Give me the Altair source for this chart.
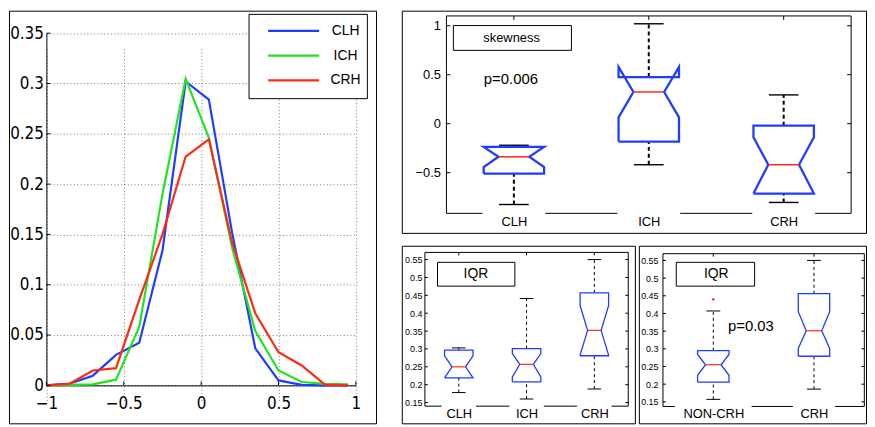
import altair as alt
import pandas as pd

# ---------------- data ----------------
bin_centers = [-1.0, -0.85, -0.7, -0.55, -0.4, -0.25, -0.1, 0.05, 0.2, 0.35, 0.5, 0.65, 0.8, 0.95]
clh_density = [0.0, 0.0017, 0.0096, 0.0303, 0.0424, 0.1338, 0.302, 0.284, 0.152, 0.0368, 0.0049, 0.0005, 0.0, 0.0]
ich_density = [0.0, 0.0005, 0.001, 0.0056, 0.058, 0.19, 0.3047, 0.246, 0.137, 0.054, 0.0148, 0.0033, 0.0015, 0.001]
crh_density = [0.0, 0.0015, 0.0148, 0.0171, 0.085, 0.150, 0.2274, 0.2445, 0.142, 0.0716, 0.0329, 0.0197, 0.0007, 0.0]
series_names = ["CLH", "ICH", "CRH"]
series_colors = ["#1f3dff", "#22e322", "#ff2a12"]
left_xticks = [-1, -0.5, 0, 0.5, 1]
left_yticks = [0, 0.05, 0.1, 0.15, 0.2, 0.25, 0.3, 0.35]

skew_cats = ["CLH", "ICH", "CRH"]
skew_lo = [-0.825, -0.419, -0.804]
skew_q1 = [-0.51, -0.182, -0.713]
skew_notch_lo = [-0.443, 0.064, -0.713]
skew_med = [-0.338, 0.324, -0.419]
skew_notch_hi = [-0.237, 0.58, -0.139]
skew_q3 = [-0.237, 0.476, -0.02]
skew_hi = [-0.22, 1.02, 0.294]
skew_yticks = [-0.5, 0, 0.5, 1]
skew_label = "skewness"
skew_p = "p=0.006"

iqr3_cats = ["CLH", "ICH", "CRH"]
iqr3_lo = [0.178, 0.160, 0.188]
iqr3_q1 = [0.219, 0.208, 0.281]
iqr3_notch_lo = [0.219, 0.222, 0.283]
iqr3_med = [0.250, 0.257, 0.352]
iqr3_notch_hi = [0.281, 0.287, 0.421]
iqr3_q3 = [0.297, 0.301, 0.457]
iqr3_hi = [0.303, 0.441, 0.550]

iqr2_cats = ["NON-CRH", "CRH"]
iqr2_lo = [0.157, 0.186]
iqr2_q1 = [0.206, 0.279]
iqr2_notch_lo = [0.225, 0.301]
iqr2_med = [0.255, 0.351]
iqr2_notch_hi = [0.284, 0.405]
iqr2_q3 = [0.295, 0.456]
iqr2_hi = [0.407, 0.550]
iqr2_outlier_cat = [1]
iqr2_outlier_val = [0.440]
iqr2_p = "p=0.03"
iqr_label = "IQR"
iqr_yticks = [0.15, 0.2, 0.25, 0.3, 0.35, 0.4, 0.45, 0.5, 0.55]

# ---------------- styles ----------------
FONT = "Liberation Sans, Arial, Helvetica, sans-serif"
NARROW = "Liberation Sans Narrow, Arial Narrow, DejaVu Sans Condensed, Liberation Sans, sans-serif"
BLUE = "#1f3dff"
RED = "#ff2a12"
ONE = pd.DataFrame({"a": [0]})


class Frame:
    """Panel view = outer frame; plot area placed at (ox, oy) with size W x H."""

    def __init__(self, FW, FH, ox, oy, W, H):
        self.FW, self.FH, self.ox, self.oy, self.W, self.H = FW, FH, ox, oy, W, H

    def rect(self, x0, x1, y0, y1, fill="white", fill_opacity=1.0, stroke="black", sw=1.0):
        return alt.Chart(ONE).mark_rect(fill=fill, fillOpacity=fill_opacity, stroke=stroke,
                                        strokeWidth=sw).encode(
            x=alt.value(self.ox + x0), x2=alt.value(self.ox + x1),
            y=alt.value(self.oy + y0), y2=alt.value(self.oy + y1))

    def text(self, txt, x, y, size, font=FONT, align="center"):
        return alt.Chart(pd.DataFrame({"t": [txt]})).mark_text(
            font=font, fontSize=size, color="black", align=align, baseline="middle").encode(
            x=alt.value(self.ox + x), y=alt.value(self.oy + y), text="t:N")

    def xscale(self, dom):
        return alt.Scale(domain=dom, range=[self.ox, self.ox + self.W], nice=False, zero=False)

    def yscale(self, dom):
        return alt.Scale(domain=dom, range=[self.oy + self.H, self.oy], nice=False, zero=False)


# ---------------- left panel: density curves ----------------
def left_panel():
    F = Frame(370, 416, 37.7, 22.7, 312, 355)
    rows = []
    for name, vals in zip(series_names, [clh_density, ich_density, crh_density]):
        for xv, yv in zip(bin_centers, vals):
            rows.append({"x": xv, "y": yv, "series": name})
    dens = pd.DataFrame(rows)
    xs = F.xscale([-1, 1])
    ys = F.yscale([0, 0.35])
    common = dict(grid=True, gridDash=[1, 2.4], gridColor="#7a7a7a", gridWidth=1,
                  domain=True, domainColor="black", domainWidth=1, ticks=False,
                  labelFont=NARROW, labelFontSize=17, labelColor="black",
                  labelFlush=False, labelOverlap=False, title=None, format="~g")
    xaxis = alt.Axis(values=left_xticks, labelPadding=10,
                     offset=-(F.FH - F.oy - F.H), **common)
    yaxis = alt.Axis(values=left_yticks, labelPadding=3, offset=-F.ox, **common)

    lines = alt.Chart(dens).mark_line(strokeWidth=2.2).encode(
        x=alt.X("x:Q", scale=xs, axis=xaxis),
        y=alt.Y("y:Q", scale=ys, axis=yaxis),
        color=alt.Color("series:N", scale=alt.Scale(domain=series_names, range=series_colors),
                        legend=None),
        detail="series:N")
    yt = alt.Chart(pd.DataFrame({"t": left_yticks})).mark_rule(color="black", strokeWidth=1).encode(
        y=alt.Y("t:Q", scale=ys, axis=yaxis), x=alt.value(F.ox), x2=alt.value(F.ox + 4))
    xt = alt.Chart(pd.DataFrame({"t": left_xticks})).mark_rule(color="black", strokeWidth=1).encode(
        x=alt.X("t:Q", scale=xs, axis=xaxis), y=alt.value(F.oy + F.H - 4), y2=alt.value(F.oy + F.H))
    layers = [lines, yt, xt, F.rect(204.3, 323.6, -19, 66)]
    row_y = [-2.4, 22.6, 47.6]
    for i, name in enumerate(series_names):
        layers.append(alt.Chart(pd.DataFrame({"n": [name]})).mark_rule(
            color=series_colors[i], strokeWidth=2.2).encode(
            x=alt.value(F.ox + 223.6), x2=alt.value(F.ox + 275), y=alt.value(F.oy + row_y[i])))
        layers.append(F.text(name, 301.6, row_y[i], 14))
    return alt.layer(*layers).properties(width=F.FW, height=F.FH)


# ---------------- notched box panels ----------------
def box_panel(cats, lo, q1, nlo, med, nhi, q3, hi, yticks, ydom, st, extras):
    F = Frame(*st["frame"])
    n = len(cats)
    W, H = F.W, F.H
    pos = list(range(1, n + 1))
    hw, nw, cw = st["half"], st["notch"], st["cap"]
    xs = F.xscale([0.5, n + 0.5])
    ys = F.yscale(ydom)
    label_expr = "[" + ",".join("'%s'" % c for c in cats) + "][datum.value - 1]"
    xaxis = alt.Axis(values=pos, labelExpr=label_expr, ticks=False, domain=False, grid=False,
                     labelFont=FONT, labelFontSize=13, labelColor="black",
                     labelPadding=st["xpad"], labelFlush=False, labelOverlap=False,
                     offset=-(F.FH - F.oy - F.H), title=None, zindex=1)
    yaxis = alt.Axis(values=yticks, format="~g", ticks=False, domain=False, grid=False,
                     labelFont=FONT, labelFontSize=st["yfs"], labelColor="black",
                     labelPadding=st["ypad"], labelFlush=False, labelOverlap=False,
                     offset=-F.ox, title=None, zindex=1)

    def X(f):
        return alt.X(f, type="quantitative", scale=xs, axis=xaxis)

    def Y(f):
        return alt.Y(f, type="quantitative", scale=ys, axis=yaxis)

    stats = pd.DataFrame({"cat": cats, "pos": pos, "lo": lo, "q1": q1, "med": med,
                          "q3": q3, "hi": hi})
    stats["cap_l"] = stats["pos"] - cw
    stats["cap_r"] = stats["pos"] + cw
    stats["med_l"] = stats["pos"] - nw
    stats["med_r"] = stats["pos"] + nw
    stats["gap_l"] = [p - g for p, g in zip(pos, st["gap"])]
    stats["gap_r"] = [p + g for p, g in zip(pos, st["gap"])]

    poly = []
    for i, c in enumerate(pos):
        verts = [(c - hw, q1[i]), (c - hw, nlo[i]), (c - nw, med[i]), (c - hw, nhi[i]),
                 (c - hw, q3[i]), (c + hw, q3[i]), (c + hw, nhi[i]), (c + nw, med[i]),
                 (c + hw, nlo[i]), (c + hw, q1[i]), (c - hw, q1[i])]
        for k, (vx, vy) in enumerate(verts):
            poly.append({"cat": cats[i], "k": k, "px": vx, "py": vy})
    poly = pd.DataFrame(poly)

    layers = [
        F.rect(0, W, 0, H, fill_opacity=0),
        alt.Chart(stats).mark_rect(fill="white", strokeWidth=0).encode(
            x=X("gap_l"), x2="gap_r", y=alt.value(F.oy + H - 1.5), y2=alt.value(F.oy + H + 1.5)),
        alt.Chart(stats).mark_rule(color="black", strokeWidth=st["wsw"], strokeDash=st["dash"]).encode(
            x=X("pos"), y=Y("q3"), y2="hi"),
        alt.Chart(stats).mark_rule(color="black", strokeWidth=st["wsw"], strokeDash=st["dash"]).encode(
            x=X("pos"), y=Y("lo"), y2="q1"),
        alt.Chart(stats).mark_rule(color="black", strokeWidth=st["csw"]).encode(
            x=X("cap_l"), x2="cap_r", y=Y("hi")),
        alt.Chart(stats).mark_rule(color="black", strokeWidth=st["csw"]).encode(
            x=X("cap_l"), x2="cap_r", y=Y("lo")),
        alt.Chart(poly).mark_line(color=BLUE, strokeWidth=st["bsw"], strokeJoin="miter").encode(
            x=X("px"), y=Y("py"), detail="cat:N", order="k:Q"),
        alt.Chart(stats).mark_rule(color=RED, strokeWidth=st["msw"]).encode(
            x=X("med_l"), x2="med_r", y=Y("med")),
    ]
    tl = st["tick"]
    tdf = pd.DataFrame({"t": yticks})
    layers.append(alt.Chart(tdf).mark_rule(color="black", strokeWidth=1).encode(
        y=Y("t"), x=alt.value(F.ox), x2=alt.value(F.ox + tl)))
    layers.append(alt.Chart(tdf).mark_rule(color="black", strokeWidth=1).encode(
        y=Y("t"), x=alt.value(F.ox + W - tl), x2=alt.value(F.ox + W)))
    layers.append(alt.Chart(pd.DataFrame({"t": pos})).mark_rule(color="black", strokeWidth=1).encode(
        x=X("t"), y=alt.value(F.oy), y2=alt.value(F.oy + tl)))
    layers += extras(F, X, Y)
    return alt.layer(*layers).properties(width=F.FW, height=F.FH)


# frame = (frame width, frame height, plot x offset, plot y offset, plot width, plot height)
top_style = dict(frame=(468, 224, 45, 5.3, 408, 199),
                 half=0.224, notch=0.114, cap=0.11, gap=[0.233, 0.233, 0.233],
                 bsw=2.3, wsw=2.0, csw=1.4, dash=[4, 3], msw=1.5, yfs=13, ypad=6, xpad=2, tick=4)
iqr3_style = dict(frame=(235, 179, 23.3, 6.7, 205, 155),
                  half=0.21, notch=0.10, cap=0.10, gap=[0.254, 0.254, 0.254],
                  bsw=1.3, wsw=1.0, csw=1.0, dash=[3, 3], msw=1.2, yfs=9, ypad=3, xpad=1, tick=3)
iqr2_style = dict(frame=(229, 179, 24.3, 8, 203, 154),
                  half=0.156, notch=0.077, cap=0.069, gap=[0.38, 0.21],
                  bsw=1.3, wsw=1.0, csw=1.0, dash=[3, 3], msw=1.2, yfs=9, ypad=5, xpad=1, tick=3)


def skew_extras(F, X, Y):
    return [F.rect(7, 126, 9.7, 34.7), F.text(skew_label, 65.7, 21.8, 13),
            F.text(skew_p, 65, 64, 15)]


def iqr3_extras(F, X, Y):
    return [F.rect(12.7, 90.7, 10, 34), F.text(iqr_label, 51.4, 21.5, 14)]


def iqr2_extras(F, X, Y):
    out = pd.DataFrame({"pos": iqr2_outlier_cat, "v": iqr2_outlier_val})
    return [F.rect(13.4, 92.4, 8.7, 32.7), F.text(iqr_label, 53.7, 20, 14),
            F.text(iqr2_p, 88.7, 72.7, 15),
            alt.Chart(out).mark_point(shape="cross", filled=True, color=RED, size=8,
                                      opacity=1).encode(x=X("pos"), y=Y("v"))]


top = box_panel(skew_cats, skew_lo, skew_q1, skew_notch_lo, skew_med, skew_notch_hi, skew_q3,
                skew_hi, skew_yticks, [-0.915, 1.10], top_style, skew_extras)
p3 = box_panel(iqr3_cats, iqr3_lo, iqr3_q1, iqr3_notch_lo, iqr3_med, iqr3_notch_hi, iqr3_q3,
               iqr3_hi, iqr_yticks, [0.14, 0.570], iqr3_style, iqr3_extras)
p4 = box_panel(iqr2_cats, iqr2_lo, iqr2_q1, iqr2_notch_lo, iqr2_med, iqr2_notch_hi, iqr2_q3,
               iqr2_hi, iqr_yticks, [0.137, 0.569], iqr2_style, iqr2_extras)

right = alt.vconcat(top, alt.hconcat(p3, p4, spacing=2), spacing=11)
chart = alt.hconcat(left_panel(), right, spacing=24).properties(padding=0).configure_view(
    stroke="black", strokeWidth=1, fill="white")

chart.save("out.html", embed_options={"renderer": "svg", "actions": False})
